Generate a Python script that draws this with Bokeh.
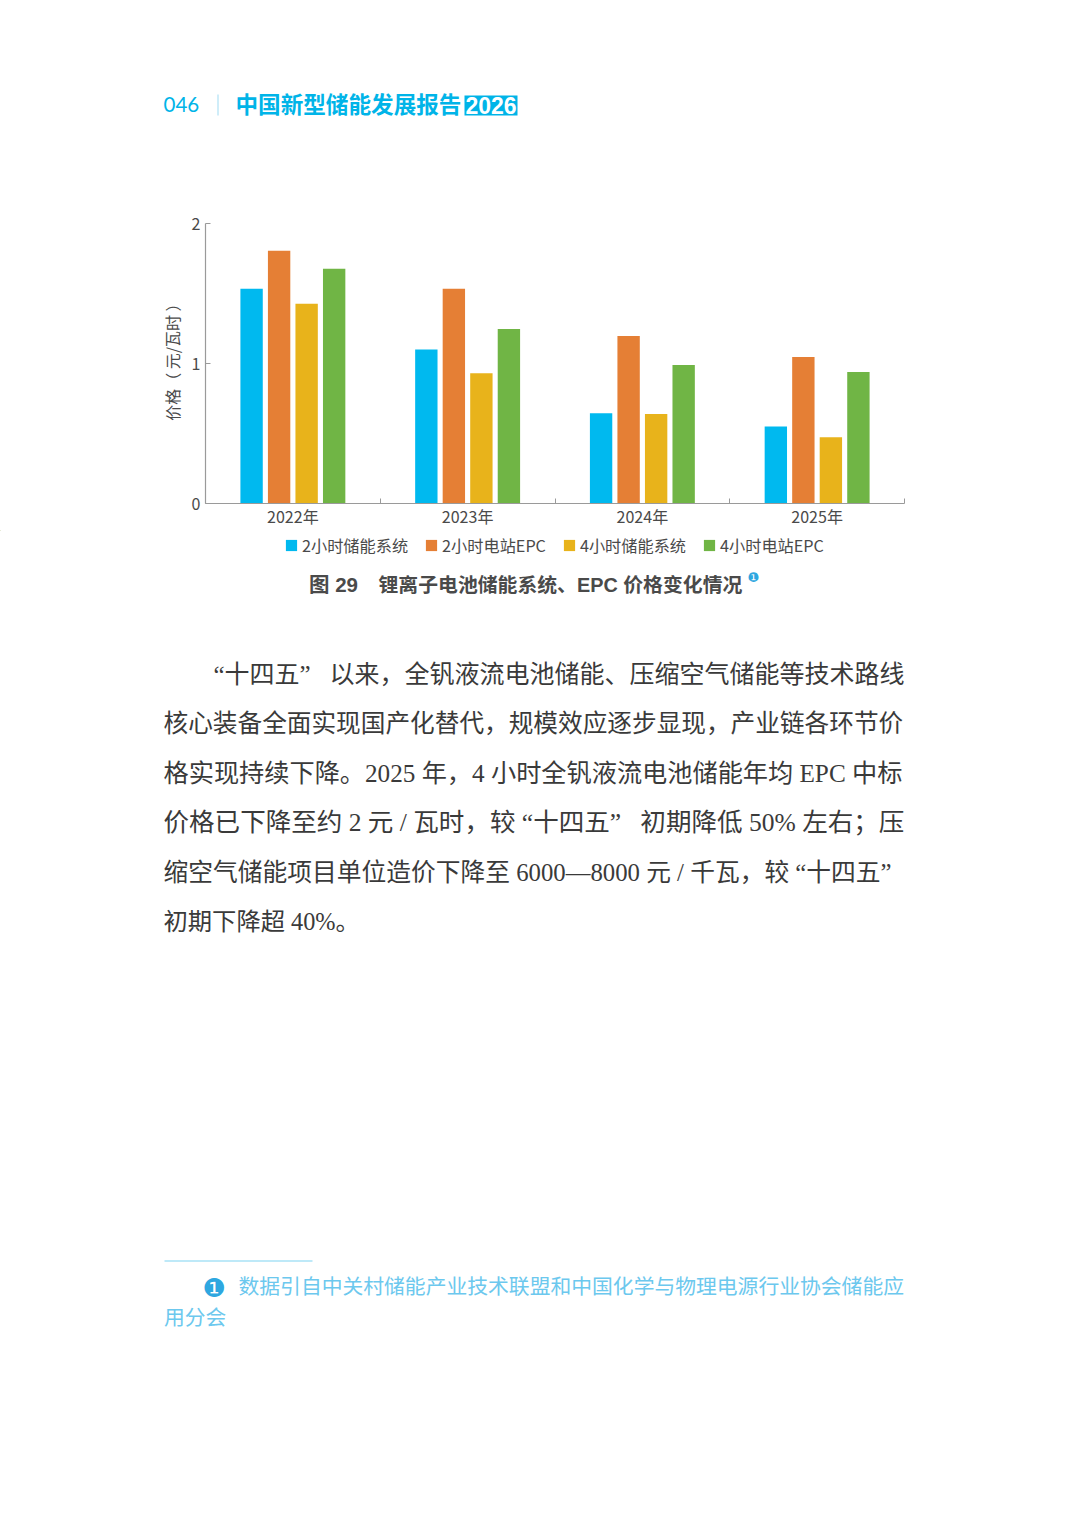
from bokeh.plotting import figure
from bokeh.embed import file_html
from bokeh.resources import INLINE
from bokeh.models import (Label, Legend, LegendItem, FixedTicker, Range1d)

years = ["2022年", "2023年", "2024年", "2025年"]
series_names = ["2小时储能系统", "2小时电站EPC", "4小时储能系统", "4小时电站EPC"]
sys_2h = [1.534, 1.10, 0.645, 0.55]
epc_2h = [1.806, 1.534, 1.197, 1.047]
sys_4h = [1.427, 0.93, 0.64, 0.473]
epc_4h = [1.677, 1.247, 0.99, 0.94]
colors = ["#00B9EF", "#E57F35", "#E8B31B", "#70B545"]
y_ticks = [0, 1, 2]
N = "\u00a0"
body_lines = [
    "“十四五”" + N * 3 + "以来，全钒液流电池储能、压缩空气储能等技术路线",
    "核心装备全面实现国产化替代，规模效应逐步显现，产业链各环节价",
    "格实现持续下降。2025 年，4 小时全钒液流电池储能年均 EPC 中标",
    "价格已下降至约 2 元 / 瓦时，较 “十四五”" + N * 3 + "初期降低 50% 左右；压",
    "缩空气储能项目单位造价下降至 6000—8000 元 / 千瓦，较 “十四五”",
    "初期下降超 40%。",
]
body_x = [213, 163, 163, 163, 163, 163]
body_y = [674, 723, 773, 822, 872, 921]
body_size = [25, 24.67, 25.2, 25.55, 24.75, 24.3]
foot_lines = ["数据引自中关村储能产业技术联盟和中国化学与物理电源行业协会储能应", "用分会"]

CJK = "Noto Sans CJK SC"
SERIF = "'Liberation Serif', 'Noto Sans CJK SC'"
W = 1080
TOP_H = 190          # header strip
CHART_H = 340        # chart strip, y 190..530
PAGE_H = 1510
BLUE = "#00B4E8"
AXIS = "#9a9a9a"
INK = "#4a4a4a"


def sheet(y0, y1):
    """A figure whose data coordinates are the page's pixels."""
    f = figure(width=W, height=y1 - y0, output_backend="svg", toolbar_location=None,
               x_range=Range1d(0, W), y_range=Range1d(y1, y0),
               min_border_left=0, min_border_right=0, min_border_top=0, min_border_bottom=0)
    f.axis.visible = False
    f.grid.visible = False
    f.outline_line_color = None
    return f


def txt(f, x, y, s, font=CJK, size=16, color="#444444", style="normal"):
    f.add_layout(Label(x=x, y=y, text=s, text_font=font, text_font_size=f"{size}px", text_color=color,
                       text_font_style=style, text_baseline="middle"))


# header ---------------------------------------------------------------
top = sheet(0, TOP_H)
txt(top, 163, 104, "046", font="Lato", size=20.5, color=BLUE)
top.quad(left=217, right=218, top=94, bottom=115, fill_color="#9fdcf3", line_color=None)
txt(top, 235, 103, "中国新型储能发展报告", size=22.6, color=BLUE, style="bold")
top.quad(left=464, right=517, top=95, bottom=115, fill_color=BLUE, line_color=None)
txt(top, 465, 104.5, "2026", font="Liberation Sans", size=23, color="white", style="bold")

# chart ----------------------------------------------------------------
p = figure(width=W, height=CHART_H, output_backend="svg", toolbar_location=None,
           x_range=Range1d(0, 4), y_range=Range1d(0, 2),
           min_border_left=205, min_border_right=W - 904,
           min_border_top=223 - TOP_H, min_border_bottom=TOP_H + CHART_H - 504)
p.outline_line_color = None
p.grid.visible = False

step, bw = 0.1575, 0.128
for i, (vals, col) in enumerate(zip([sys_2h, epc_2h, sys_4h, epc_4h], colors)):
    xs = [k + 0.5 + (i - 1.5) * step for k in range(len(years))]
    p.vbar(x=xs, top=vals, bottom=0, width=bw, fill_color=col, line_color=None)

xa = p.xaxis[0]
xa.ticker = FixedTicker(ticks=[k + 0.5 for k in range(4)], minor_ticks=[0, 1, 2, 3, 4])
xa.major_label_overrides = {k + 0.5: y for k, y in enumerate(years)}
xa.major_tick_line_color = None
xa.major_tick_in = 0
xa.major_tick_out = 0
xa.minor_tick_in = 5
xa.minor_tick_out = 0
xa.minor_tick_line_color = AXIS
xa.axis_line_color = AXIS
xa.axis_line_width = 1.2
xa.major_label_text_font = CJK
xa.major_label_text_font_size = "16px"
xa.major_label_text_color = INK
xa.major_label_standoff = 0

ya = p.yaxis[0]
ya.ticker = FixedTicker(ticks=y_ticks)
ya.minor_tick_line_color = None
ya.major_tick_in = 5
ya.major_tick_out = 0
ya.major_tick_line_color = AXIS
ya.axis_line_color = AXIS
ya.axis_line_width = 1.2
ya.major_label_text_font = CJK
ya.major_label_text_font_size = "16px"
ya.major_label_text_color = INK
ya.major_label_standoff = 5
ya.axis_label = N * 3 + "价格（ 元/瓦时 ）"
ya.axis_label_text_font = CJK
ya.axis_label_text_font_style = "normal"
ya.axis_label_text_font_size = "16px"
ya.axis_label_text_color = INK
ya.axis_label_standoff = 5

# legend, caption, body, footnote ---------------------------------------
low = sheet(TOP_H + CHART_H, PAGE_H)
keys = [low.vbar(x=[-100], top=[-100], bottom=[-101], width=1, fill_color=c, line_color=None) for c in colors]
legend = Legend(items=[LegendItem(label=n, renderers=[r]) for n, r in zip(series_names, keys)],
                orientation="horizontal", location=(284, PAGE_H - 557), padding=0, margin=0, spacing=16,
                glyph_width=14, glyph_height=14, label_standoff=4,
                border_line_color=None, background_fill_alpha=0,
                label_text_font=CJK, label_text_font_size="16.2px", label_text_color=INK)
low.add_layout(legend)

LAT = "'Liberation Sans', 'Noto Sans CJK SC'"
txt(low, 308.5, 584, "图 29", font=LAT, size=20.5, color=INK, style="bold")
txt(low, 378, 584, "锂离子电池储能系统、EPC 价格变化情况", font=LAT, size=19.85, color=INK, style="bold")
txt(low, 747, 577, "❶", font="DejaVu Sans", size=13, color="#2EA7E0")
for s, x, y, z in zip(body_lines, body_x, body_y, body_size):
    txt(low, x, y, s, font=SERIF, size=z, color="#3a3a3a")
low.quad(left=164, right=312, top=1260, bottom=1261, fill_color="#7fd4f2", line_color=None)
txt(low, 202, 1287, "❶", font="DejaVu Sans", size=26, color="#2EA7E0")
txt(low, 238, 1284.5, foot_lines[0], size=20.8, color="#6cc8ee")
txt(low, 163.5, 1315.5, foot_lines[1], size=20.8, color="#6cc8ee")

open("out.html", "w").write(file_html([top, p, low], INLINE))
